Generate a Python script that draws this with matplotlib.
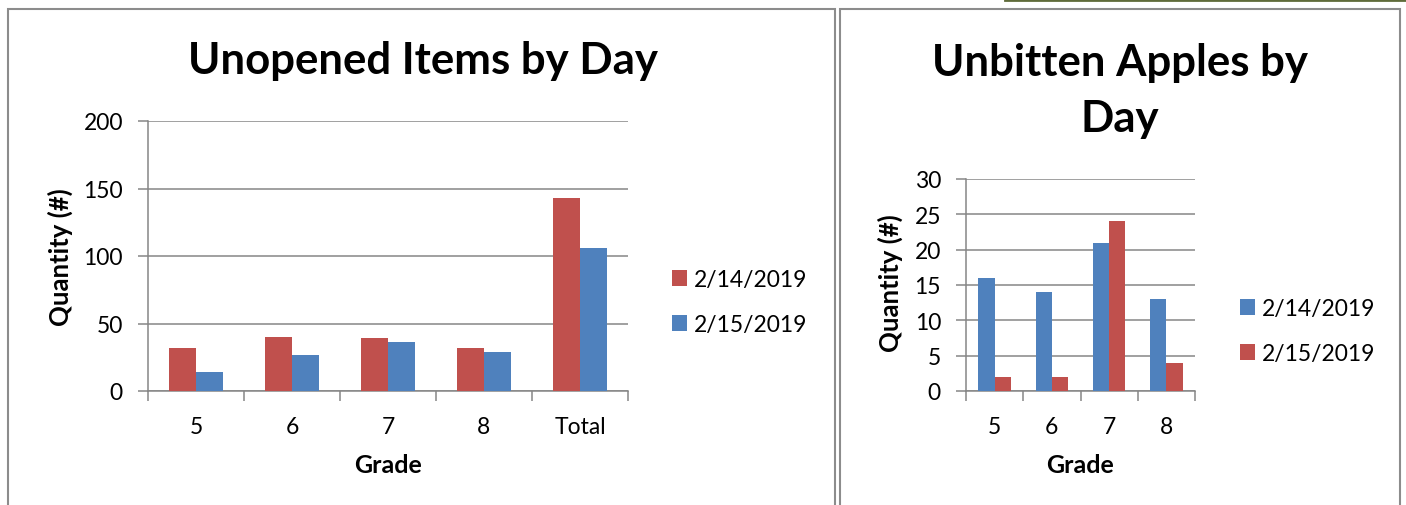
import numpy as np
import matplotlib.pyplot as plt
from matplotlib.patches import Rectangle
from matplotlib.lines import Line2D

plt.rcParams['font.family'] = ['Lato', 'DejaVu Sans']

# data - left chart
grades_left = ["5", "6", "7", "8", "Total"]
items_0214 = [32, 40, 39, 32, 143]
items_0215 = [14, 27, 36, 29, 106]

# data - right chart
grades_right = ["5", "6", "7", "8"]
apples_0214 = [16, 14, 21, 13]
apples_0215 = [2, 2, 24, 4]

series_labels = ["2/14/2019", "2/15/2019"]

RED = "#C0504D"
BLUE = "#4F81BD"
GRID = "#868686"

W, H = 1406, 506
fig = plt.figure(figsize=(W / 100, H / 100), dpi=100)


def px(x0, y0, x1, y1):
    # pixel box (top-left origin) -> figure fraction rect
    return [x0 / W, (H - y1) / H, (x1 - x0) / W, (y1 - y0) / H]


def excel_bars(ax, cats, s1, s2, c1, c2, ymax, step):
    n = len(cats)
    x = np.arange(n)
    bw = 1 / 3.5
    b1 = ax.bar(x - bw / 2, s1, width=bw, color=c1, label=series_labels[0], zorder=3)
    b2 = ax.bar(x + bw / 2, s2, width=bw, color=c2, label=series_labels[1], zorder=3)
    ax.set_xlim(-0.5, n - 0.5)
    ax.set_ylim(0, ymax)
    ax.set_yticks(np.arange(0, ymax + 1, step))
    ax.yaxis.grid(True, color=GRID, linewidth=1.1, zorder=0)
    ax.set_axisbelow(True)
    # ticks at category boundaries, labels at centers
    ax.set_xticks(np.arange(n + 1) - 0.5)
    ax.set_xticklabels([])
    ax.set_xticks(x, minor=True)
    ax.set_xticklabels(cats, minor=True)
    ax.tick_params(axis="x", which="major", length=7, width=1.1, color=GRID, direction="out")
    ax.tick_params(axis="x", which="minor", length=0, pad=18, labelsize=16.5)
    ax.tick_params(axis="y", length=7, width=1.1, color=GRID, pad=11, labelsize=16.5)
    for s in ["top", "right"]:
        ax.spines[s].set_visible(False)
    for s in ["left", "bottom"]:
        ax.spines[s].set_color(GRID)
        ax.spines[s].set_linewidth(1.1)
    return b1, b2


# chart borders
for x0, x1 in [(8, 835), (840, 1400)]:
    fig.patches.append(Rectangle((x0 / W, -0.05), (x1 - x0) / W, (H - 10) / H + 0.05,
                                 transform=fig.transFigure, fill=False,
                                 edgecolor="#8c8c8c", linewidth=1.5))
fig.lines.append(Line2D([1005 / W, 1.0], [1 - 1 / H, 1 - 1 / H], transform=fig.transFigure,
                        color="#5f6b3a", linewidth=2))

# left chart
ax1 = fig.add_axes(px(148, 122, 628, 392))
excel_bars(ax1, grades_left, items_0214, items_0215, RED, BLUE, 200, 50)
fig.text(423 / W, 1 - 61 / H, "Unopened Items by Day", ha="center", va="center",
         fontsize=31.5, fontweight="bold")
fig.text(60 / W, 1 - 257 / H, "Quantity (#)", ha="center", va="center", rotation=90,
         fontsize=18.5, fontweight="bold")
fig.text(388 / W, 1 - 466 / H, "Grade", ha="center", va="center", fontsize=18, fontweight="bold")
ax1.legend(loc="center left", bbox_to_anchor=(672 / W, 1 - 303 / H), bbox_transform=fig.transFigure,
           frameon=False, fontsize=16.5, handlelength=0.65, handleheight=0.65, handletextpad=0.3,
           labelspacing=1.05, borderpad=0, borderaxespad=0)

# right chart
ax2 = fig.add_axes(px(966, 180, 1195, 392))
excel_bars(ax2, grades_right, apples_0214, apples_0215, BLUE, RED, 30, 5)
fig.text(1120 / W, 1 - 91 / H, "Unbitten Apples by\nDay", ha="center", va="center",
         fontsize=31.5, fontweight="bold", linespacing=1.5)
fig.text(890 / W, 1 - 283 / H, "Quantity (#)", ha="center", va="center", rotation=90,
         fontsize=18.5, fontweight="bold")
fig.text(1080 / W, 1 - 466 / H, "Grade", ha="center", va="center", fontsize=18, fontweight="bold")
ax2.legend(loc="center left", bbox_to_anchor=(1240 / W, 1 - 332 / H), bbox_transform=fig.transFigure,
           frameon=False, fontsize=16.5, handlelength=0.65, handleheight=0.65, handletextpad=0.3,
           labelspacing=1.05, borderpad=0, borderaxespad=0)

fig.savefig("out.png", dpi=100, facecolor="white")
